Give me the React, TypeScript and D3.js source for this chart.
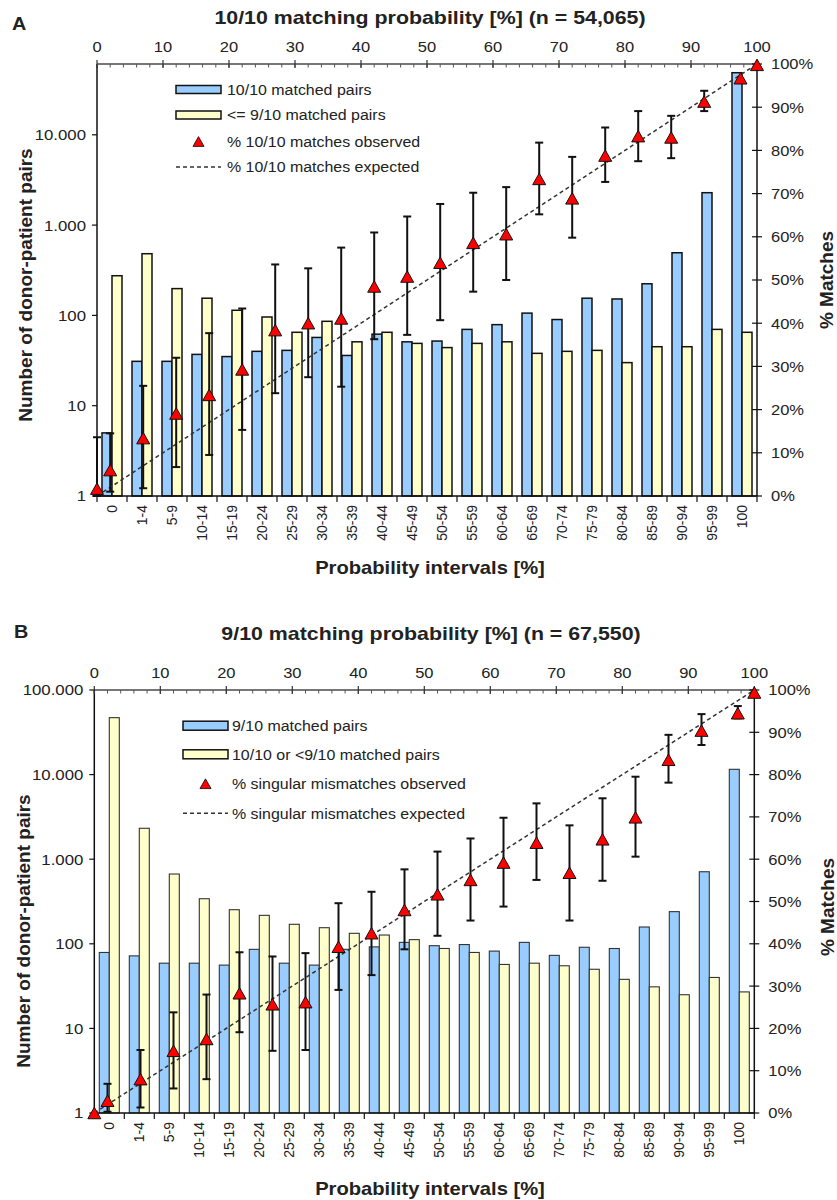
import React from 'react';
import * as d3 from 'd3';

const categories = ["0","1-4","5-9","10-14","15-19","20-24","25-29","30-34","35-39","40-44","45-49","50-54","55-59","60-64","65-69","70-74","75-79","80-84","85-89","90-94","95-99","100"];
const probMid = [0,2,7,12,17,22,27,32,37,42,47,52,57,62,67,72,77,82,87,92,97.5,100];
const topTicks = [0,10,20,30,40,50,60,70,80,90,100];
const pctTicks = [0,10,20,30,40,50,60,70,80,90,100];

// Panel A: 10/10
const aBlue = [5,31,31,37,35,40,41,57,36,62,51,52,70,79,106,90,155,152,224,494,2285,48700];
const aYellow = [275,482,198,155,114,96,65,86,51,65,49,44,49,51,38,40,41,30,45,45,70,65];
const aObs = [1.7,6.0,13.4,19.1,23.4,29.3,38.4,40.0,41.1,48.5,50.8,54.0,58.6,60.6,73.4,68.9,78.8,83.3,83.0,91.3,96.7,99.8];
const aLow = [0,1.0,1.8,6.7,9.5,15.3,23.8,27.5,25.3,36.3,37.3,40.7,47.3,50.0,65.2,59.8,72.7,77.5,78.2,89.1,96.5,99.8];
const aHigh = [13.6,14.5,25.5,32.0,37.7,43.4,53.6,52.7,57.5,61.0,64.7,67.6,70.2,71.5,81.8,78.5,85.3,89.1,88.0,93.8,97.0,99.8];
const aLogTicks = [1,10,100,1000,10000];
const aLegend = ["10/10 matched pairs","<= 9/10 matched pairs","% 10/10 matches observed","% 10/10 matches expected"];

// Panel B: 9/10
const bBlue = [79,72,59,59,56,86,59,56,86,92,104,95,98,82,104,73,91,88,158,240,711,11550];
const bYellow = [47100,2320,668,341,253,217,170,155,133,127,112,88,79,57,59,55,50,38,31,25,40,27];
const bObs = [0,2.9,8.0,14.7,17.5,28.3,25.7,26.2,39.3,42.5,48.0,51.7,55.1,59.2,63.9,56.8,64.7,69.9,83.5,90.4,94.5,99.4];
const bLow = [0,0.3,1.3,5.8,8.0,19.1,14.7,14.9,29.1,32.6,38.7,41.9,45.5,48.8,55.1,45.5,54.9,60.6,78.1,87.0,93.3,99.4];
const bHigh = [0,6.9,14.9,23.8,28.0,38.0,37.0,37.8,49.6,52.3,57.6,61.8,64.9,69.8,73.2,68.0,74.4,79.5,89.4,94.3,96.2,99.4];
const bLogTicks = [1,10,100,1000,10000,100000];
const bLegend = ["9/10 matched pairs","10/10 or <9/10 matched pairs","% singular mismatches observed","% singular mismatches expected"];

const FONT = "'Liberation Sans', Arial, Helvetica, sans-serif";
const BLUE = "#99CCFF";
const YELLOW = "#FFFFCC";
const TXT = "#222";

function Txt({x, y, sx = 1.15, size = 14, weight = 'normal', anchor = 'start', rotate = 0, children, dy}: any) {
  const tf = `translate(${x},${y}) scale(${sx},1)` + (rotate ? ` rotate(${rotate})` : '');
  return (
    <text transform={tf} fontFamily={FONT} fontSize={size} fontWeight={weight}
      textAnchor={anchor} fill={TXT} dy={dy}>{children}</text>
  );
}

const fmtCount = (v: number) => d3.format(",")(v).replace(/,/g, ".");
const triPath = "M0,-5.75L6.5,5.75L-6.5,5.75Z";

function Panel(p: any) {
  const { L, R, T, B, yMax, logTicks, blue, yellow, obs, low, high, title, letter,
    legendLabels, leg, ttl, barStroke, barStrokeW } = p;
  const x = d3.scaleBand().domain(categories).range([L, R]).padding(0);
  const bw = x.bandwidth();
  const yLog = d3.scaleLog().domain([1, yMax]).range([B, T]);
  const yPct = d3.scaleLinear().domain([0, 100]).range([B, T]);
  const xTop = d3.scaleLinear().domain([0, 100]).range([L, R]);
  const minor = d3.range(0, 101, 2);
  return (
    <g>
      {categories.map((c, i) => (
        <g key={'b' + i}>
          <rect x={(x(c) as number) + bw / 6} y={yLog(blue[i])} width={bw / 3} height={B - yLog(blue[i])}
            fill={BLUE} stroke={barStroke} strokeWidth={barStrokeW} />
          <rect x={(x(c) as number) + bw / 2} y={yLog(yellow[i])} width={bw / 3} height={B - yLog(yellow[i])}
            fill={YELLOW} stroke={barStroke} strokeWidth={barStrokeW} />
        </g>
      ))}
      <line x1={xTop(0)} y1={yPct(0)} x2={xTop(100)} y2={yPct(100)} stroke="#333" strokeWidth={1.5} strokeDasharray="4,3" />
      {probMid.map((m, i) => (high[i] - low[i] > 0.8 ? (
        <g key={'e' + i} stroke="#111" strokeWidth={2}>
          <line x1={xTop(m)} x2={xTop(m)} y1={yPct(low[i])} y2={yPct(high[i])} />
          <line x1={xTop(m) - 4} x2={xTop(m) + 4} y1={yPct(low[i])} y2={yPct(low[i])} />
          <line x1={xTop(m) - 4} x2={xTop(m) + 4} y1={yPct(high[i])} y2={yPct(high[i])} />
        </g>
      ) : null))}
      <line x1={L} x2={L} y1={T} y2={B} stroke="#111" strokeWidth={1.5} />
      <line x1={R} x2={R} y1={T} y2={B} stroke="#111" strokeWidth={1.5} />
      <line x1={L} x2={R} y1={B} y2={B} stroke="#111" strokeWidth={1.5} />
      <line x1={L} x2={R} y1={T} y2={T} stroke="#777" strokeWidth={2.2} />
      {minor.map(v => (
        <line key={'mi' + v} x1={xTop(v)} x2={xTop(v)} y1={T} y2={T + 3.5} stroke="#555" strokeWidth={1} />
      ))}
      {topTicks.map(v => (
        <g key={'tt' + v}>
          <line x1={xTop(v)} x2={xTop(v)} y1={T - 4} y2={T + 4} stroke="#333" strokeWidth={1.2} />
          <Txt x={xTop(v)} y={T - 12} anchor="middle" size={15} sx={1.1}>{v}</Txt>
        </g>
      ))}
      {logTicks.map((v: number) => (
        <g key={'lt' + v}>
          <line x1={L - 5} x2={L} y1={yLog(v)} y2={yLog(v)} stroke="#111" strokeWidth={1.2} />
          <Txt x={L - 11} y={yLog(v)} anchor="end" dy="0.36em" size={15} sx={1.12}>{fmtCount(v)}</Txt>
        </g>
      ))}
      {pctTicks.map(v => (
        <g key={'pt' + v}>
          <line x1={R - 5} x2={R + 5} y1={yPct(v)} y2={yPct(v)} stroke="#111" strokeWidth={1.2} />
          <Txt x={R + 14} y={yPct(v)} anchor="start" dy="0.36em" size={15} sx={1.1}>{v + '%'}</Txt>
        </g>
      ))}
      {d3.range(categories.length + 1).map(i => (
        <line key={'ct' + i} x1={L + i * bw} x2={L + i * bw} y1={B} y2={B + 6} stroke="#111" strokeWidth={1.2} />
      ))}
      {categories.map(c => (
        <Txt key={'cl' + c} x={(x(c) as number) + bw / 2} y={B + 9} sx={1} rotate={-90} anchor="end" dy="0.36em">{c}</Txt>
      ))}
      {probMid.map((m, i) => (
        <path key={'t' + i} d={triPath} transform={`translate(${xTop(m)},${yPct(obs[i])})`}
          fill="#FF0000" stroke="#111" strokeWidth={1} />
      ))}
      <g>
        <rect x={leg.x} y={leg.rows[0] - leg.h / 2} width={leg.w} height={leg.h} fill={BLUE} stroke="#111" strokeWidth={1.5} />
        <rect x={leg.x} y={leg.rows[1] - leg.h / 2} width={leg.w} height={leg.h} fill={YELLOW} stroke="#111" strokeWidth={1.5} />
        <path d={triPath} transform={`translate(${leg.x + leg.w / 2},${leg.rows[2]}) scale(0.85)`} fill="#FF0000" stroke="#111" strokeWidth={1} />
        <line x1={leg.x} x2={leg.x + leg.w} y1={leg.rows[3]} y2={leg.rows[3]} stroke="#333" strokeWidth={1.5} strokeDasharray="4,3" />
        {legendLabels.map((s: string, i: number) => (
          <Txt key={'lg' + i} x={leg.tx} y={leg.rows[i]} dy="0.36em" size={14.5} sx={1.1}>{s}</Txt>
        ))}
      </g>
      <Txt x={ttl.letterX} y={ttl.letterY} size={18} weight="bold" sx={1.1}>{letter}</Txt>
      <Txt x={ttl.titleX} y={ttl.titleY} size={17.5} weight="bold" sx={1.22} anchor="middle">{title}</Txt>
      <Txt x={ttl.yTitleX} y={ttl.yTitleY} size={19} weight="bold" sx={1} rotate={-90} anchor="middle" dy="0.36em">Number of donor-patient pairs</Txt>
      <Txt x={ttl.rTitleX} y={ttl.rTitleY} size={19} weight="bold" sx={1} rotate={-90} anchor="middle" dy="0.36em">% Matches</Txt>
      <Txt x={ttl.xTitleX} y={ttl.xTitleY} size={18} weight="bold" sx={1.12} anchor="middle">Probability intervals [%]</Txt>
    </g>
  );
}

export default function App() {
  return (
    <svg width={837} height={1200} style={{ position: 'absolute', left: 0, top: 0, background: '#fff' }}>
      <rect x={0} y={0} width={837} height={1200} fill="#fff" />
      <Panel L={97} R={757} T={64} B={496} yMax={Math.pow(10, 432 / 90.3)} logTicks={aLogTicks}
        blue={aBlue} yellow={aYellow} obs={aObs} low={aLow} high={aHigh}
        title="10/10 matching probability [%] (n = 54,065)" letter="A" legendLabels={aLegend}
        leg={{ x: 176, w: 45, h: 8, tx: 227, rows: [89.5, 115, 141.5, 167] }}
        ttl={{ letterX: 12, letterY: 30, titleX: 430, titleY: 24, yTitleX: 25, yTitleY: 285, rTitleX: 826, rTitleY: 280, xTitleX: 430, xTitleY: 574 }}
        barStroke="#111" barStrokeW={1.5} />
      <Panel L={94.3} R={754.3} T={690} B={1113} yMax={100000} logTicks={bLogTicks}
        blue={bBlue} yellow={bYellow} obs={bObs} low={bLow} high={bHigh}
        title="9/10 matching probability [%] (n = 67,550)" letter="B" legendLabels={bLegend}
        leg={{ x: 183, w: 45, h: 9, tx: 232, rows: [725.7, 754.3, 783.7, 813.3] }}
        ttl={{ letterX: 14, letterY: 638, titleX: 431, titleY: 640, yTitleX: 23, yTitleY: 931, rTitleX: 827, rTitleY: 907, xTitleX: 430, xTitleY: 1195 }}
        barStroke="#333" barStrokeW={1.1} />
    </svg>
  );
}
